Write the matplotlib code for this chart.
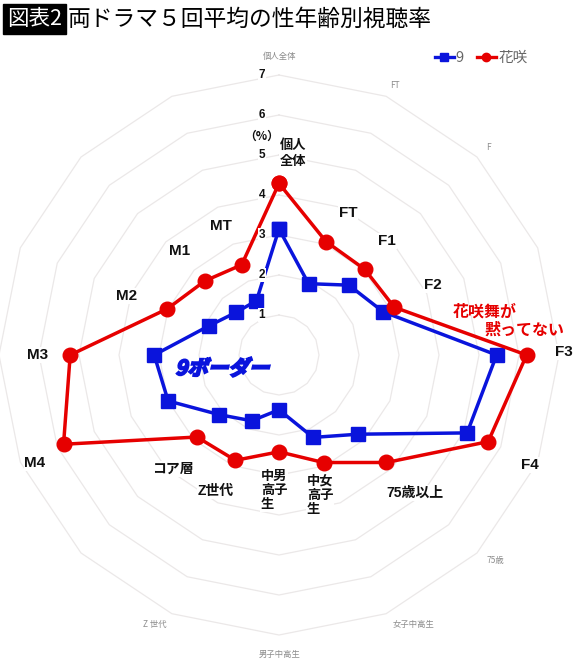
import matplotlib
matplotlib.use('Agg')
import matplotlib.pyplot as plt
import numpy as np
from matplotlib.patches import Rectangle, PathPatch
from matplotlib.textpath import TextPath
from matplotlib.font_manager import FontProperties
from matplotlib.transforms import Affine2D
from matplotlib.lines import Line2D

plt.rcParams['font.family'] = ['Noto Sans CJK JP', 'DejaVu Sans']

# ---------------- data ----------------
categories = ['個人全体', 'FT', 'F1', 'F2', 'F3', 'F4', '75歳以上', '女子中高生',
              '男子中高生', 'Z世代', 'コア層', 'M4', 'M3', 'M2', 'M1', 'MT']
hanasaki = [4.29, 3.07, 3.03, 3.12, 6.19, 5.66, 3.80, 2.91,
            2.42, 2.85, 2.90, 5.83, 5.22, 3.02, 2.62, 2.44]
nine = [3.15, 1.93, 2.47, 2.82, 5.44, 5.09, 2.80, 2.23,
        1.37, 1.78, 2.11, 3.00, 3.12, 1.90, 1.51, 1.47]
series_names = ['9', '花咲']
ticks = [1, 2, 3, 4, 5, 6, 7]
title = '両ドラマ５回平均の性年齢別視聴率'
badge = '図表2'
# bold in-chart labels (displayed text)
axis_labels = ['個人\n全体', 'FT', 'F1', 'F2', 'F3', 'F4', '75歳以上', '中女\n高子\n生',
               '中男\n高子\n生', 'Z世代', 'コア層', 'M4', 'M3', 'M2', 'M1', 'MT']
# faint outer labels that remain visible
outer_labels = ['個人全体', 'FT', 'F', '75歳', '女子中高生', '男子中高生', 'Z 世代']

# ---------------- layout ----------------
W, H = 580, 664
fig = plt.figure(figsize=(W / 100, H / 100), dpi=100)
fig.patch.set_facecolor('white')

LATIN = ['Liberation Sans', 'Noto Sans CJK JP', 'DejaVu Sans']


def fx(x):
    return x / W


def fy(y):
    return 1 - y / H


cx, cy, R = 279, 355, 280
ax = fig.add_axes([(cx - R) / W, (H - cy - R) / H, 2 * R / W, 2 * R / H], projection='polar')
ax.set_theta_zero_location('N')
ax.set_theta_direction(-1)
ax.set_ylim(0, 7)
ax.grid(False)
ax.set_xticks([])
ax.set_yticks([])
ax.spines['polar'].set_visible(False)
ax.patch.set_visible(False)

n = len(categories)
theta = np.arange(n) * 2 * np.pi / n
tc = np.append(theta, theta[0])
for t in ticks:
    ax.plot(tc, [t] * (n + 1), color='#ebe8e8', lw=0.9, zorder=1, clip_on=False)

blue = '#0a14dc'
red = '#e60000'
ax.plot(tc, nine + [nine[0]], color=blue, lw=2.5, marker='s', ms=9.5,
        clip_on=False, zorder=3)
ax.plot(tc, hanasaki + [hanasaki[0]], color=red, lw=2.5, marker='o', ms=10.5,
        clip_on=False, zorder=4)

for t in ticks:
    ax.annotate(str(t), xy=(0, t), xytext=(-17, 0), textcoords='offset pixels',
                ha='center', va='center', fontsize=8.5, fontweight='bold', color='#111111',
                family=LATIN, bbox=dict(fc='white', ec='none', pad=0.6), zorder=5)
ax.annotate('（%）', xy=(0, 5.47), xytext=(-17, 0), textcoords='offset pixels',
            ha='center', va='center', fontsize=8.5, fontweight='bold', color='#111111')

# bold labels
label_pos = [(293, 153), (348, 213), (387, 241), (433, 285), (564, 352), (530, 465),
             (415, 493), (320, 495), (274, 490), (216, 491), (173, 469), (35, 463),
             (38, 355), (127, 296), (180, 251), (221, 226)]
for lab, (x, y) in zip(axis_labels, label_pos):
    latin = lab.isascii()
    multi = '\n' in lab
    fig.text(fx(x), fy(y), lab, ha='center', va='center',
             fontsize=11 if latin else (9.5 if multi else 10), fontweight='bold',
             family=LATIN if not multi else ['Noto Sans CJK JP', 'DejaVu Sans'],
             color='#111111', linespacing=1.0 if lab.count('\n') > 1 else 1.15,
             multialignment='left',
             bbox=dict(fc='white', ec='none', pad=0.5))

# faint outer labels
outer_pos = [(280, 56), (395, 85), (488, 148), (495, 561), (414, 624), (280, 654), (155, 624)]
for lab, (x, y) in zip(outer_labels, outer_pos):
    fig.text(fx(x), fy(y), lab, ha='center', va='center', fontsize=6, color='#8c8c8c')

# red annotation
fig.text(fx(485), fy(312), '花咲舞が', ha='center', va='center', fontsize=11.5,
         fontweight='bold', color=red)
fig.text(fx(524), fy(330), '黙ってない', ha='center', va='center', fontsize=11.5,
         fontweight='bold', color=red)

# blue italic annotation
fp = FontProperties(family='Noto Sans CJK JP', weight='bold')
tp = TextPath((0, 0), '9ボーダー', size=20.5, prop=fp)
bb = tp.get_extents()
tr = (Affine2D().translate(-bb.x0, -(bb.y0 + bb.y1) / 2).skew_deg(14, 0)
      .translate(178, H - 367).scale(1 / W, 1 / H) + fig.transFigure)
fig.add_artist(PathPatch(tp, transform=tr, fc=blue, ec=blue, lw=1.4))

# legend
handles = [Line2D([], [], color=blue, lw=2.4, marker='s', ms=6),
           Line2D([], [], color=red, lw=2.4, marker='o', ms=6)]
fig.legend(handles, series_names, loc='center', bbox_to_anchor=(fx(481), fy(58)), ncol=2,
           frameon=False, handlelength=1.3, handletextpad=0.15, columnspacing=0.9,
           fontsize=10.5, labelcolor='#666666')

# title
fig.add_artist(Rectangle((fx(3), fy(34)), 63 / W, 30 / H, transform=fig.transFigure,
                         color='black', zorder=1))
fig.text(fx(34.5), fy(19), badge, color='white', fontsize=15.5, ha='center', va='center',
         zorder=2)
fig.text(fx(68), fy(19), title, color='black', fontsize=16.4, ha='left', va='center')

fig.savefig('out.png', dpi=100, facecolor='white')
